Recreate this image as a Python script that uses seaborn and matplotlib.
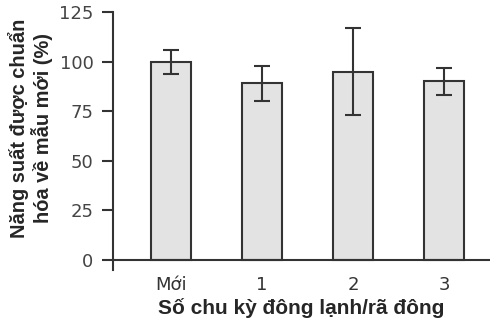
import matplotlib
matplotlib.use("Agg")
import matplotlib.pyplot as plt
import seaborn as sns
import pandas as pd

categories = ["Mới", "1", "2", "3"]
values = [100, 89, 95, 90]
errors = [6, 9, 22, 7]
yticks = [0, 25, 50, 75, 100, 125]

sns.set_theme(style="white")
plt.rcParams['font.family'] = ['DejaVu Sans']

df = pd.DataFrame({"cat": categories, "val": values})

fig = plt.figure(figsize=(4.92, 3.26), dpi=100)
ax = fig.add_axes([113/492, 1-270/326, (490-113)/492, (270-12)/326])

sns.barplot(data=df, x="cat", y="val", ax=ax, color="#e3e3e3", width=0.43,
            edgecolor="#333333", linewidth=1.5, errorbar=None, saturation=1)
ax.errorbar(range(len(categories)), values, yerr=errors, fmt="none",
            ecolor="#333333", elinewidth=1.5, capsize=5.5, capthick=1.5)

ax.set_xlim(-0.637, 3.505)
ax.set_ylim(-5, 125)
ax.set_yticks(yticks)
ax.axhline(0, color="#333333", lw=1.5, zorder=5)

for s in ["top", "right", "bottom"]:
    ax.spines[s].set_visible(False)
ax.spines["left"].set_color("#333333")
ax.spines["left"].set_linewidth(1.5)
ax.spines["left"].set_bounds(-5, 125)

ax.tick_params(axis="y", direction="out", length=8, width=1.5, color="#333333",
               labelsize=13, labelcolor="#444444", pad=6, left=True)
ax.tick_params(axis="x", length=0, labelsize=13, labelcolor="#333333", pad=4)

ax.set_xlabel("Số chu kỳ đông lạnh/rã đông", fontsize=15, fontweight="bold",
              family=["Liberation Sans"], labelpad=3)
ax.set_ylabel("Năng suất được chuẩn\nhóa về mẫu mới (%)", fontsize=14.4,
              fontweight="bold", family=["Liberation Sans"],
              linespacing=1.1)
ax.yaxis.set_label_coords(-0.16, 0.55)

fig.savefig("out.png", dpi=100)
